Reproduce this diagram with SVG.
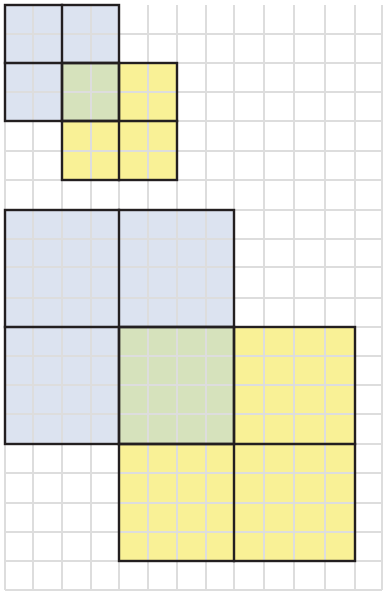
<svg xmlns="http://www.w3.org/2000/svg" width="383" height="595" viewBox="0 0 383 595">
<style>
.blue{fill:#dce3f0}
.yellow{fill:#f9f196}
.green{fill:#d6e2bc}
.grid line{stroke:#dddddd;stroke-width:2}
.edge{fill:none;stroke:#231f20;stroke-width:2.4;stroke-linecap:square}
</style>
<rect width="383" height="595" fill="#ffffff"/>
<g id="fills">
<g id="small-blue"><rect class="blue" x="5" y="5" width="114" height="116"/></g>
<g id="small-yellow"><rect class="yellow" x="62" y="63" width="115" height="117"/></g>
<g id="small-overlap"><rect class="green" x="62" y="63" width="57" height="58"/></g>
<g id="big-blue"><rect class="blue" x="5" y="210" width="229" height="234"/></g>
<g id="big-yellow"><rect class="yellow" x="119" y="327" width="236" height="234"/></g>
<g id="big-overlap"><rect class="green" x="119" y="327" width="115" height="117"/></g>
</g>
<g id="grid" class="grid">
<line x1="5" y1="5" x2="5" y2="590"/>
<line x1="33" y1="5" x2="33" y2="590"/>
<line x1="62" y1="5" x2="62" y2="590"/>
<line x1="91" y1="5" x2="91" y2="590"/>
<line x1="119" y1="5" x2="119" y2="590"/>
<line x1="148" y1="5" x2="148" y2="590"/>
<line x1="177" y1="5" x2="177" y2="590"/>
<line x1="206" y1="5" x2="206" y2="590"/>
<line x1="234" y1="5" x2="234" y2="590"/>
<line x1="264" y1="5" x2="264" y2="590"/>
<line x1="294" y1="5" x2="294" y2="590"/>
<line x1="325" y1="5" x2="325" y2="590"/>
<line x1="355" y1="5" x2="355" y2="590"/>
<line x1="382" y1="5" x2="382" y2="590"/>
<line x1="5" y1="34" x2="382" y2="34"/>
<line x1="5" y1="63" x2="382" y2="63"/>
<line x1="5" y1="92" x2="382" y2="92"/>
<line x1="5" y1="121" x2="382" y2="121"/>
<line x1="5" y1="151" x2="382" y2="151"/>
<line x1="5" y1="180" x2="382" y2="180"/>
<line x1="5" y1="210" x2="382" y2="210"/>
<line x1="5" y1="239" x2="382" y2="239"/>
<line x1="5" y1="267" x2="382" y2="267"/>
<line x1="5" y1="298" x2="382" y2="298"/>
<line x1="5" y1="327" x2="382" y2="327"/>
<line x1="5" y1="356" x2="382" y2="356"/>
<line x1="5" y1="385" x2="382" y2="385"/>
<line x1="5" y1="414" x2="382" y2="414"/>
<line x1="5" y1="444" x2="382" y2="444"/>
<line x1="5" y1="473" x2="382" y2="473"/>
<line x1="5" y1="503" x2="382" y2="503"/>
<line x1="5" y1="532" x2="382" y2="532"/>
<line x1="5" y1="561" x2="382" y2="561"/>
<line x1="5" y1="590" x2="382" y2="590"/>
</g>
<g id="outlines">
<g id="small-blue-edges">
<rect class="edge" x="5" y="5" width="114" height="116"/>
<path class="edge" d="M62 5V121M5 63H119"/>
</g>
<g id="small-yellow-edges">
<rect class="edge" x="62" y="63" width="115" height="117"/>
<path class="edge" d="M119 63V180M62 121H177"/>
</g>
<g id="big-blue-edges">
<rect class="edge" x="5" y="210" width="229" height="234"/>
<path class="edge" d="M119 210V444M5 327H234"/>
</g>
<g id="big-yellow-edges">
<rect class="edge" x="119" y="327" width="236" height="234"/>
<path class="edge" d="M234 327V561M119 444H355"/>
</g>
</g>
</svg>
